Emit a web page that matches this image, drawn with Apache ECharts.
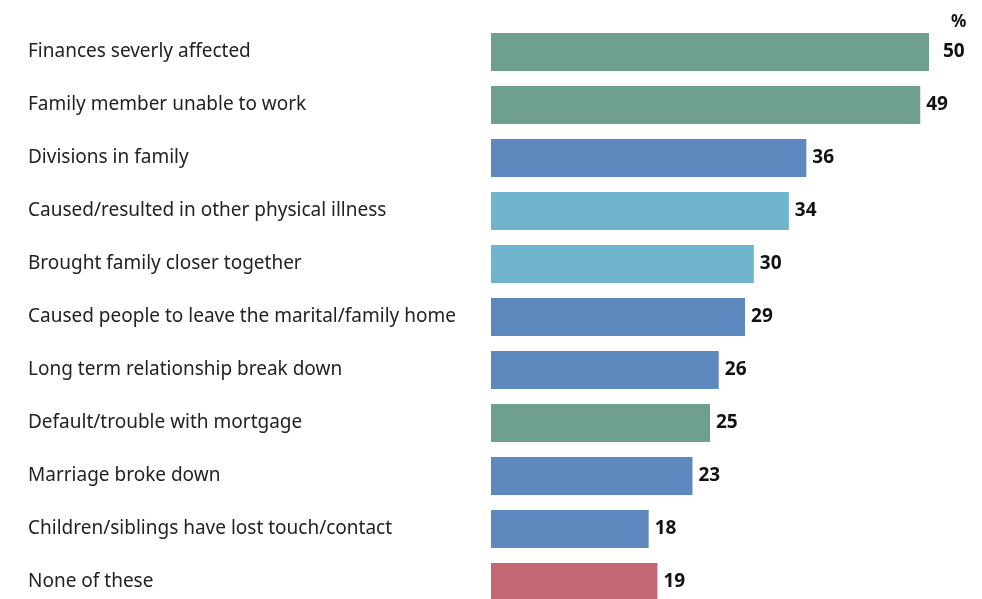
<!DOCTYPE html>
<html>
<head>
<meta charset="utf-8">
<script src="https://cdn.jsdelivr.net/npm/echarts@6/dist/echarts.min.js"></script>
<style>
  html, body { margin: 0; padding: 0; background: #fff; }
  #chart { width: 982px; height: 599px; }
</style>
</head>
<body>
<div id="chart"></div>
<script>
var categories = [
    'Finances severly affected',
    'Family member unable to work',
    'Divisions in family',
    'Caused/resulted in other physical illness',
    'Brought family closer together',
    'Caused people to leave the marital/family home',
    'Long term relationship break down',
    'Default/trouble with mortgage',
    'Marriage broke down',
    'Children/siblings have lost touch/contact',
    'None of these'
];
var values = [50, 49, 36, 34, 30, 29, 26, 25, 23, 18, 19];
var barColors = ['#6fa08e', '#6fa08e', '#5e89be', '#6fb3cd', '#6fb3cd', '#5e89be',
                 '#5e89be', '#6fa08e', '#5e89be', '#5e89be', '#c46775'];

var myChart = echarts.init(document.getElementById('chart'));
var option = {
    animation: false,
    title: {
        text: '%',
        left: 946,
        top: 9,
        textStyle: { fontFamily: 'Noto Sans', fontSize: 17, fontWeight: 'bold', color: '#111' }
    },
    grid: {
        left: 491,
        top: 25.5,
        width: 438,
        height: 583,
        outerBoundsMode: 'none',
        containLabel: false
    },
    xAxis: {
        type: 'value',
        min: 0,
        max: 50,
        show: false
    },
    yAxis: {
        type: 'category',
        inverse: true,
        data: categories,
        axisLine: { show: false },
        axisTick: { show: false },
        splitLine: { show: false },
        axisLabel: {
            align: 'left',
            margin: 463,
            fontFamily: 'Noto Sans',
            fontSize: 19,
            color: '#222'
        }
    },
    series: [
        {
            type: 'bar',
            barWidth: 38,
            data: values.map(function (v, i) {
                var item = { value: v, itemStyle: { color: barColors[i] } };
                if (i === 0) item.label = { distance: 14 };
                return item;
            }),
            label: {
                show: true,
                position: 'right',
                distance: 6,
                fontFamily: 'Noto Sans',
                fontSize: 19,
                fontWeight: 'bold',
                color: '#111'
            }
        }
    ]
};
myChart.setOption(option);
</script>
</body>
</html>
